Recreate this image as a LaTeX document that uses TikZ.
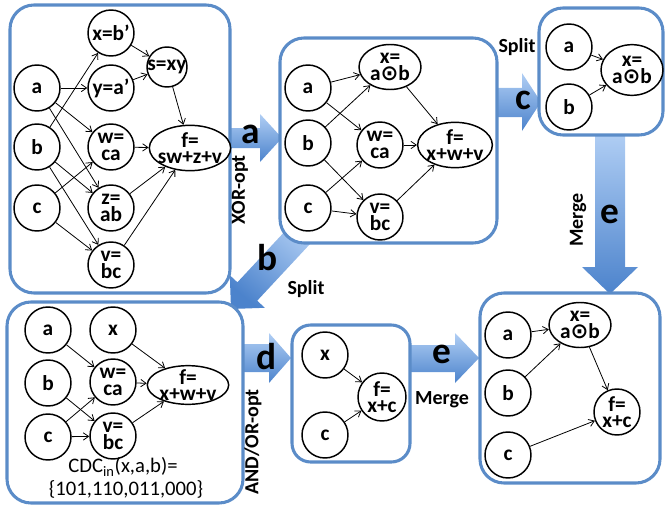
\documentclass[tikz,border=0pt]{standalone}
\usepackage{fontspec}
\setmainfont{Carlito}
\newfontfamily\dejavu{DejaVu Sans}
\usetikzlibrary{arrows.meta,shapes.geometric}
\definecolor{panelblue}{RGB}{91,140,200}
\definecolor{arrlight}{RGB}{176,206,244}
\definecolor{arrdark}{RGB}{76,131,204}
\newcommand{\xod}{{\dejavu\bfseries ⊙}}
\begin{document}
\begin{tikzpicture}[x=0.75pt,y=-0.75pt,
  every node/.style={font=\fontsize{16}{12.5}\selectfont\bfseries},
  circ/.style={circle, draw, line width=1.1pt, fill=white, minimum size=34.5pt, inner sep=0pt, align=center},
  ell/.style={ellipse, draw, line width=1.1pt, fill=white, inner sep=0pt},
  ctr/.style={label={[align=center]center:#1}},
  conn/.style={-{Straight Barb[length=4pt,width=5.5pt]}, line width=0.6pt},
  panel/.style={draw=panelblue, line width=2.3pt, fill=white, rounded corners=18pt},
  blk/.style={top color=arrlight, bottom color=arrdark},
  bigl/.style={font=\fontsize{28}{28}\selectfont\bfseries},
  side/.style={font=\fontsize{15}{15}\selectfont\bfseries}]
\useasboundingbox (0,0) rectangle (667,510);

% ---------- block arrows (behind panels) ----------
\shade[blk] (229,128) -- (260,128) -- (260,114) -- (282,138) -- (260,162) -- (260,148) -- (229,148) -- cycle;
\shade[blk] (496,88) -- (522,88) -- (522,73) -- (541,102) -- (522,131) -- (522,117) -- (496,117) -- cycle;
\shade[blk] (595,133) -- (625,133) -- (625,267) -- (638,267) -- (610,294) -- (582,267) -- (595,267) -- cycle;
\shade[blk] (241,344) -- (269,344) -- (269,333) -- (291,358) -- (269,383) -- (269,372) -- (241,372) -- cycle;
\shade[blk] (408,345) -- (455,345) -- (455,333) -- (479,358) -- (455,383) -- (455,372) -- (408,372) -- cycle;
\shade[top color=arrlight, bottom color=arrdark, shading angle=-40]
  (298.6,216.6) -- (318.4,235.0) -- (257.2,300.7) -- (264.8,307.8) -- (231,309) -- (229.8,275.2) -- (237.4,282.3) -- cycle;

% ---------- panels ----------
\draw[panel] (10,5) rectangle (230,293);
\draw[panel] (280,38) rectangle (497,243);
\draw[panel] (539,8) rectangle (663,135);
\draw[panel] (7,302) rectangle (243,503);
\draw[panel, rounded corners=14pt] (292,325) rectangle (410,462);
\draw[panel] (480,293) rectangle (660,483);

% ---------- panel 1 ----------
\node[circ] (p1a) at (37,88) {a};
\node[circ] (p1b) at (37,147) {b};
\node[circ] (p1c) at (37,208) {c};
\node[circ, ctr={x=b’}] (p1x) at (111,33) {};
\node[circ, ctr={y=a’}] (p1y) at (111,88) {};
\node[circ] (p1w) at (111,147) {w=\\ca};
\node[circ] (p1z) at (111,208) {z=\\ab};
\node[circ] (p1v) at (111,265) {v=\\bc};
\node[circ, minimum size=30pt, ctr={s=xy}] (p1s) at (167,67) {};
\node[ell, minimum width=61pt, minimum height=34pt, ctr={f=\\sw+z+v}] (p1f) at (190,148) {};
\draw[conn] (p1a) -- (p1y);
\draw[conn] (p1a) -- (p1w);
\draw[conn] (p1a) -- (p1z);
\draw[conn] (p1b) -- (p1x);
\draw[conn] (p1b) -- (p1z);
\draw[conn] (p1b) -- (p1v);
\draw[conn] (p1c) -- (p1w);
\draw[conn] (p1c) -- (p1v);
\draw[conn] (p1x) -- (p1s);
\draw[conn] (p1y) -- (p1s);
\draw[conn] (p1s) -- (p1f);
\draw[conn] (p1w) -- (p1f);
\draw[conn] (p1z) -- (p1f);
\draw[conn] (p1v) -- (p1f);

% ---------- panel 2 ----------
\node[circ] (p2a) at (308,88) {a};
\node[circ] (p2b) at (308,143) {b};
\node[circ] (p2c) at (308,208) {c};
\node[ell, minimum width=46.5pt, minimum height=33.75pt, ctr={x=\\a\xod b}] (p2x) at (390,67) {};
\node[circ] (p2w) at (380,145) {w=\\ca};
\node[circ] (p2v) at (380,217) {v=\\bc};
\node[ell, minimum width=56pt, minimum height=34pt, ctr={f=\\x+w+v}] (p2f) at (455,145) {};
\draw[conn] (p2a) -- (p2x);
\draw[conn] (p2a) -- (p2w);
\draw[conn] (p2b) -- (p2x);
\draw[conn] (p2b) -- (p2v);
\draw[conn] (p2c) -- (p2w);
\draw[conn] (p2c) -- (p2v);
\draw[conn] (p2x) -- (p2f);
\draw[conn] (p2w) -- (p2f);
\draw[conn] (p2v) -- (p2f);

% ---------- panel 3 ----------
\node[circ] (p3a) at (569,47) {a};
\node[circ] (p3b) at (569,107) {b};
\node[ell, minimum width=46.5pt, minimum height=38pt, ctr={x=\\a\xod b}] (p3x) at (632,70) {};
\draw[conn] (p3a) -- (p3x);
\draw[conn] (p3b) -- (p3x);

% ---------- panel 4 ----------
\node[circ] (p4a) at (48,330) {a};
\node[circ] (p4b) at (48,383) {b};
\node[circ] (p4c) at (48,437) {c};
\node[circ] (p4x) at (113,330) {x};
\node[circ] (p4w) at (113,382) {w=\\ca};
\node[circ] (p4v) at (113,436) {v=\\bc};
\node[ell, minimum width=61pt, minimum height=29pt, ctr={f=\\x+w+v}] (p4f) at (188,385) {};
\draw[conn] (p4a) -- (p4w);
\draw[conn] (p4c) -- (p4w);
\draw[conn] (p4b) -- (p4v);
\draw[conn] (p4c) -- (p4v);
\draw[conn] (p4x) -- (p4f);
\draw[conn] (p4w) -- (p4f);
\draw[conn] (p4v) -- (p4f);
\node[font=\fontsize{15.5}{15.5}\selectfont] (cdc1) at (123,467) {CDC\textsubscript{in}(x,a,b)=};
\node[font=\fontsize{15.5}{15.5}\selectfont] (cdc2) at (126,489) {\{101,110,011,000\}};

% ---------- panel 5 ----------
\node[circ] (p5x) at (325,355) {x};
\node[circ] (p5c) at (325,435) {c};
\node[circ, minimum size=36pt] (p5f) at (382,397) {f=\\x+c};
\draw[conn] (p5x) -- (p5f);
\draw[conn] (p5c) -- (p5f);

% ---------- panel 6 ----------
\node[circ] (p6a) at (508,335) {a};
\node[circ] (p6b) at (508,393) {b};
\node[circ] (p6c) at (508,455) {c};
\node[ell, minimum width=46.5pt, minimum height=33.75pt, ctr={x=\\a\xod b}] (p6x) at (580,325) {};
\node[circ] (p6f) at (617,412) {f=\\x+c};
\draw[conn] (p6a) -- (p6x);
\draw[conn] (p6b) -- (p6x);
\draw[conn] (p6x) -- (p6f);
\draw[conn] (p6c) -- (p6f);

% ---------- arrow labels ----------
\node[bigl] (la) at (251,134) {a};
\node[side, rotate=90] (lxor) at (240,190) {XOR-opt};
\node[bigl] (lb) at (268,258) {b};
\node[side] (lsplitb) at (306,289) {Split};
\node[bigl] (lc) at (523,100) {c};
\node[side] (lsplitc) at (517,47) {Split};
\node[bigl] (le1) at (610,214) {e};
\node[side, rotate=90] (lmerge1) at (578,220) {Merge};
\node[bigl] (ld) at (267,357) {d};
\node[side, rotate=90] (land) at (253,442) {AND/OR-opt};
\node[bigl] (le2) at (442,354) {e};
\node[side] (lmerge2) at (442,400) {Merge};
\end{tikzpicture}
\end{document}
